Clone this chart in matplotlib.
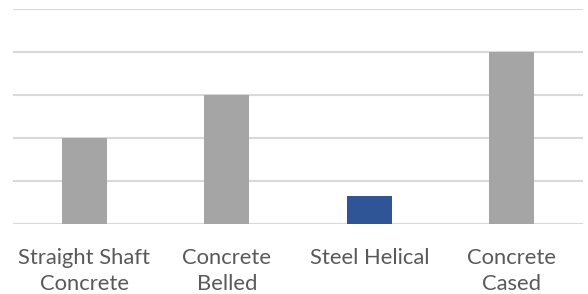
import matplotlib.pyplot as plt

# Données
categories = ['Straight Shaft\nConcrete', 'Concrete\nBelled', 'Steel Helical', 'Concrete\nCased']
values = [2, 3, 0.65, 4]
colors = ['#a5a5a5', '#a5a5a5', '#2f5597', '#a5a5a5']

fig = plt.figure(figsize=(5.88, 2.94), dpi=100)
ax = fig.add_axes([13 / 588, 1 - 224 / 294, 570 / 588, 215 / 294])

x = range(len(categories))
ax.bar(x, values, width=0.316, color=colors, zorder=3)

ax.set_xlim(-0.5, 3.5)
ax.set_ylim(0, 5)
ax.set_yticks([0, 1, 2, 3, 4, 5])
ax.set_yticklabels([])
ax.tick_params(axis='y', length=0)
ax.grid(axis='y', color='#d9d9d9', linewidth=1.5, zorder=0)

ax.set_xticks(list(x))
ax.set_xticklabels(categories, fontsize=15.8, color='#595959', family='Lato', linespacing=1.4)
ax.tick_params(axis='x', length=0, pad=17)

for s in ax.spines.values():
    s.set_visible(False)

fig.savefig('out.png', dpi=100)
